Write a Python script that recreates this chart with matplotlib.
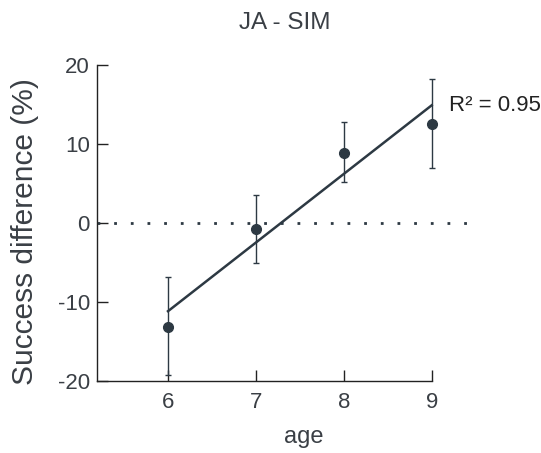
import numpy as np
import matplotlib.pyplot as plt

plt.rcParams['font.family'] = ['Liberation Sans', 'DejaVu Sans']
plt.rcParams['axes.unicode_minus'] = False

age = np.array([6, 7, 8, 9])
success_diff = np.array([-13.2, -0.8, 8.9, 12.5])
err_low = np.array([6.0, 4.3, 3.7, 5.5])
err_high = np.array([6.4, 4.3, 3.9, 5.7])
r_squared = 0.95

col = '#2d3943'
txt = '#3a3f45'

fig = plt.figure(figsize=(5.41, 4.53), dpi=100)
ax = fig.add_axes([0.179, 0.159, 0.692, 0.698])

# zero reference
ax.plot([5.19, 9.42], [0, 0], color=col, lw=2, dashes=(1, 5), dash_capstyle='butt')

ax.errorbar(age, success_diff, yerr=[err_low, err_high], fmt='o', color=col,
            ms=7, elinewidth=1, capsize=2.5, capthick=1, zorder=3)

# linear fit through the means
slope, icpt = np.polyfit(age, success_diff, 1)
xs = np.array([age.min(), age.max()])
ax.plot(xs, slope * xs + icpt, color=col, lw=1.8)

ax.text(9.2, slope * 9 + icpt, 'R\u00b2 = %.2f' % r_squared, fontsize=16,
        color='#222222', va='center', ha='left')

ax.set_xlim(5.19, 9.45)
ax.set_ylim(-20, 20)
ax.set_xticks(age)
ax.set_yticks([-20, -10, 0, 10, 20])
ax.spines['top'].set_visible(False)
ax.spines['right'].set_visible(False)
ax.spines['left'].set_bounds(-20, 20)
ax.spines['bottom'].set_bounds(5.19, 9)
for s in ['left', 'bottom']:
    ax.spines[s].set_color('#222222')
    ax.spines[s].set_linewidth(1)
ax.tick_params(direction='in', length=8, width=1, color='#222222',
               labelsize=16, labelcolor=txt, pad=5)
ax.tick_params(axis='x', pad=8)

ax.set_xlabel('age', fontsize=17, color=txt)
ax.xaxis.set_label_coords(0.553, -0.142)
ax.set_ylabel('Success difference (%)', fontsize=21.5, color=txt)
ax.yaxis.set_label_coords(-0.155, 0.472)
fig.text(0.527, 0.949, 'JA - SIM', fontsize=17.5, color=txt, ha='center', va='center')

fig.savefig('out.png', dpi=100)
